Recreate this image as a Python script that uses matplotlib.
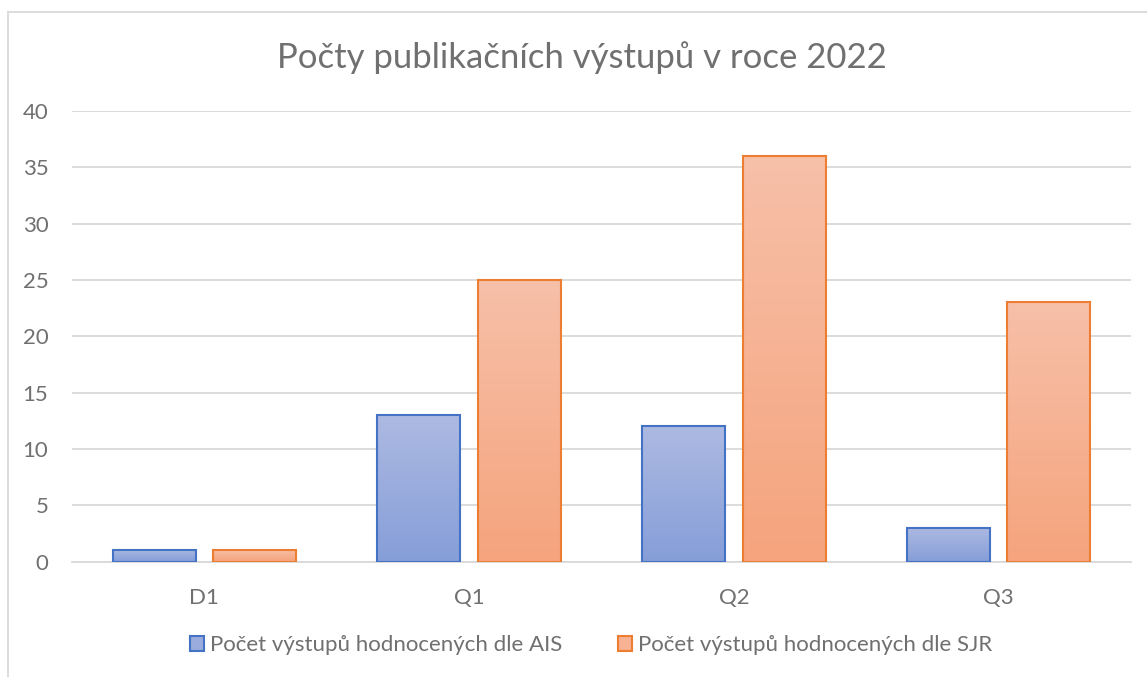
import numpy as np
import matplotlib.pyplot as plt
from matplotlib.patches import Patch
from matplotlib.lines import Line2D
from matplotlib.colors import LinearSegmentedColormap

plt.rcParams['font.family'] = ['Lato', 'DejaVu Sans']

categories = ["D1", "Q1", "Q2", "Q3"]
ais_values = [1, 13, 12, 3]
sjr_values = [1, 25, 36, 23]
labels = ["Počet výstupů hodnocených dle AIS", "Počet výstupů hodnocených dle SJR"]
title = "Počty publikačních výstupů v roce 2022"

# gradient (top, bottom) and edge colours
blue_grad = ("#adbae2", "#869ed8")
orange_grad = ("#f7c0a9", "#f5a47d")
blue_edge = "#4472c4"
orange_edge = "#ed7d31"
text_col = "#707070"
grid_col = "#d9d9d9"

W, H = 1147, 677
fig = plt.figure(figsize=(W / 100, H / 100), dpi=100)
ax = fig.add_axes([72 / W, 1 - 561.5 / H, (1131 - 72) / W, (561.5 - 111) / H])

x = np.arange(len(categories))
width = 0.314
offset = 0.19


def gradient_bars(xpos, vals, grad, edge):
    cmap = LinearSegmentedColormap.from_list("g", [grad[1], grad[0]])
    bars = ax.bar(xpos, vals, width, facecolor="none", edgecolor=edge,
                  linewidth=1.5, zorder=3)
    for b in bars:
        x0, y0 = b.get_x(), b.get_y()
        w, h = b.get_width(), b.get_height()
        img = ax.imshow(np.linspace(0, 1, 256).reshape(-1, 1), cmap=cmap,
                        extent=[x0, x0 + w, y0, y0 + h], origin="lower",
                        aspect="auto", zorder=2, interpolation="bicubic")
        img.set_clip_path(b)
    return bars


gradient_bars(x - offset, ais_values, blue_grad, blue_edge)
gradient_bars(x + offset, sjr_values, orange_grad, orange_edge)

ax.set_xlim(-0.5, len(categories) - 0.5)
ax.set_ylim(0, 40)
ax.set_yticks(range(0, 41, 5))
ax.set_xticks(x)
ax.set_xticklabels(categories)
ax.set_aspect("auto")
ax.yaxis.grid(True, color=grid_col, linewidth=1.3, zorder=0)
ax.set_axisbelow(True)
for s in ["top", "right", "left"]:
    ax.spines[s].set_visible(False)
ax.spines["bottom"].set_color(grid_col)
ax.spines["bottom"].set_linewidth(1.3)
ax.tick_params(axis="both", length=0, labelsize=16, labelcolor=text_col)
ax.tick_params(axis="y", pad=17)
ax.tick_params(axis="x", pad=19)

fig.text(582 / W, 1 - 58 / H, title, ha="center", va="center",
         fontsize=25, color=text_col)

handles = [Patch(facecolor="#9aacdd", edgecolor=blue_edge, linewidth=1.5),
           Patch(facecolor="#f6b293", edgecolor=orange_edge, linewidth=1.5)]
fig.legend(handles, labels, loc="center", bbox_to_anchor=(591 / W, 1 - 645 / H),
           ncol=2, frameon=False, fontsize=16, labelcolor=text_col,
           handlelength=0.65, handleheight=0.65, handletextpad=0.25,
           columnspacing=2.5)

# chart border
fig.add_artist(Line2D([8 / W, 8 / W], [0, 1 - 12 / H], color=grid_col, linewidth=1.3))
fig.add_artist(Line2D([8 / W, 1], [1 - 12 / H, 1 - 12 / H], color=grid_col, linewidth=1.3))

fig.savefig("out.png", dpi=100, facecolor="white")
